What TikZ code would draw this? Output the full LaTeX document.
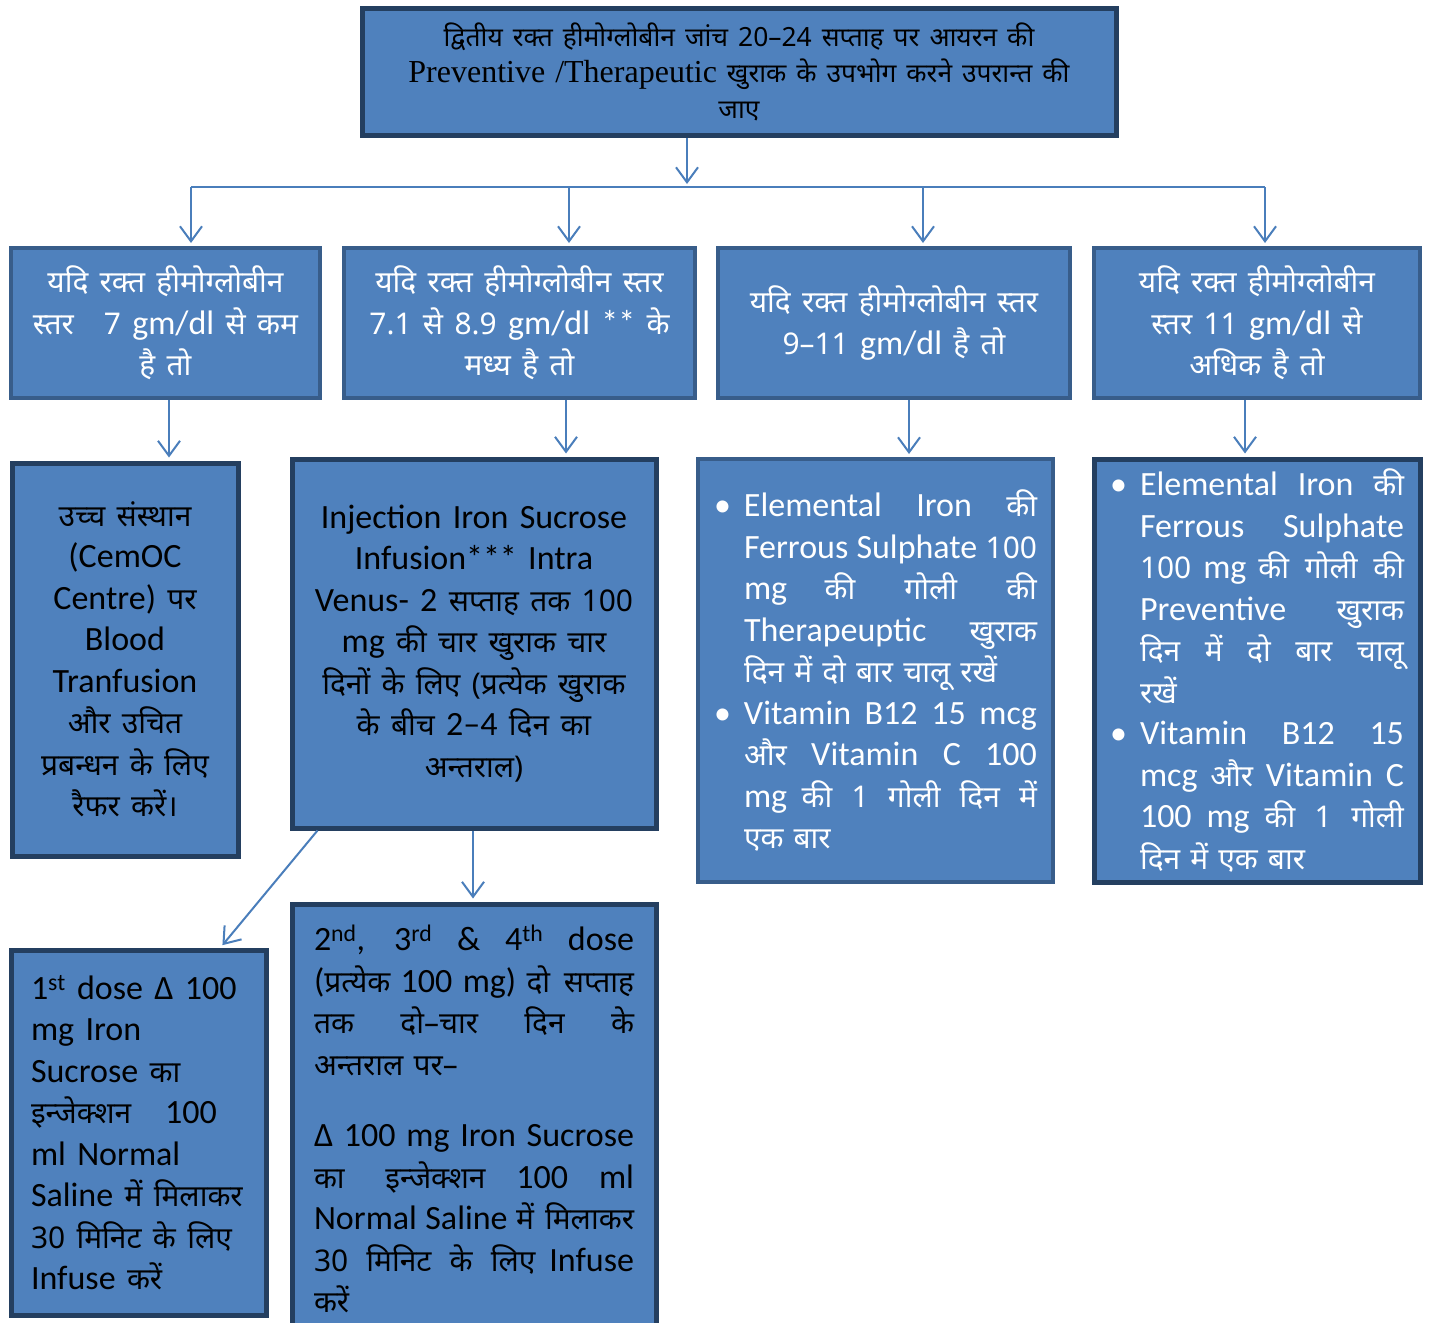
\documentclass[tikz,border=0pt]{standalone}
\usepackage{fontspec}
\setmainfont{Carlito}
\newfontfamily\hn[Script=Devanagari,Scale=0.88,WordSpace=1.3]{Noto Sans}
\newfontfamily\tms{Liberation Serif}
\usetikzlibrary{arrows.meta}
\definecolor{boxblue}{HTML}{4F81BD}
\definecolor{edgedark}{HTML}{243F60}
\definecolor{edgemid}{HTML}{385D8A}
\definecolor{linkblue}{HTML}{4A7EBB}
\newcommand\hi[1]{{\hn #1}}
\newcommand\dotitem{\hangindent=30pt\hangafter=1\noindent\hbox to 30pt{\textbullet\hfil}}

\begin{document}
\begin{tikzpicture}[x=1pt, y=-1pt,
    panel/.style={draw=edgedark, line width=5pt, fill=boxblue, inner sep=0pt,
      font=\fontsize{34}{41.5}\selectfont},
    midpanel/.style={panel, draw=edgemid, line width=4pt},
    link/.style={draw=linkblue, line width=2pt, shorten >=3pt,
      -{Straight Barb[length=15pt,width=22pt]}},
    wire/.style={draw=linkblue, line width=2pt}]
  \useasboundingbox (0,0) rectangle (1431,1322);

  % second check
  \node[panel, minimum width=754pt, minimum height=126pt, text width=720pt,
    align=center, font=\fontsize{30}{36}\selectfont] (check) at (739,72)
    {\hi{द्वितीय रक्त हीमोग्लोबीन जांच 20–24 सप्ताह पर आयरन की}\\
     {\tms\fontsize{32}{36}\selectfont Preventive /Therapeutic} \hi{खुराक के उपभोग करने उपरान्त की}\\
     \hi{जाए}};

  % haemoglobin levels
  \node[midpanel, text=white, minimum width=309pt, minimum height=150pt,
    text width=280pt, align=center] (hbA) at (165.5,323)
    {\hi{यदि रक्त हीमोग्लोबीन}\\ \hi{स्तर\quad 7} gm/dl \hi{से कम}\\ \hi{है तो}};
  \node[midpanel, text=white, minimum width=351pt, minimum height=150pt,
    text width=330pt, align=center] (hbB) at (519.5,323)
    {\hi{यदि रक्त हीमोग्लोबीन स्तर}\\ \hi{7.1 से 8.9} gm/dl ** \hi{के}\\ \hi{मध्य है तो}};
  \node[midpanel, text=white, minimum width=352pt, minimum height=150pt,
    text width=330pt, align=center] (hbC) at (894,323)
    {\hi{यदि रक्त हीमोग्लोबीन स्तर}\\ \hi{9–11} gm/dl \hi{है तो}};
  \node[midpanel, text=white, minimum width=326pt, minimum height=150pt,
    text width=300pt, align=center] (hbD) at (1257,323)
    {\hi{यदि रक्त हीमोग्लोबीन}\\ \hi{स्तर 11} gm/dl \hi{से}\\ \hi{अधिक है तो}};

  % treatments
  \node[panel, minimum width=226pt, minimum height=393pt, text width=210pt,
    align=center] (refer) at (125,659.5)
    {\hi{उच्च संस्थान}\\ (CemOC\\ Centre) \hi{पर}\\ Blood\\ Tranfusion\\
     \hi{और उचित}\\ \hi{प्रबन्धन के लिए}\\ \hi{रैफर करें।}};
  \node[panel, minimum width=364pt, minimum height=369pt, text width=340pt,
    align=center] (sucrose) at (474,643.5)
    {Injection Iron Sucrose\\ Infusion*** Intra\\ Venus- 2 \hi{सप्ताह तक 100}\\
     mg \hi{की चार खुराक चार}\\ \hi{दिनों के लिए (प्रत्येक खुराक}\\
     \hi{के बीच} 2–4 \hi{दिन का}\\ \hi{अन्तराल)}};
  \node[midpanel, text=white, minimum width=355pt, minimum height=423pt,
    text width=323pt, align=justify] (therapy) at (875.5,670.5)
    {\dotitem Elemental Iron \hi{की}\linebreak Ferrous Sulphate \hi{100}\linebreak
     mg \hi{की गोली की}\linebreak Therapeuptic \hi{खुराक}\linebreak
     \hi{दिन में दो बार चालू रखें}\par
     \dotitem Vitamin B12 15 mcg\linebreak \hi{और} Vitamin C 100\linebreak
     mg \hi{की 1 गोली दिन में}\linebreak \hi{एक बार}\par};
  \node[panel, text=white, minimum width=326pt, minimum height=423pt,
    text width=294pt, align=justify] (prevent) at (1257,670.5)
    {\dotitem Elemental Iron \hi{की}\linebreak Ferrous Sulphate\linebreak
     \hi{100} mg \hi{की गोली की}\linebreak Preventive \hi{खुराक}\linebreak
     \hi{दिन में दो बार चालू}\linebreak \hi{रखें}\par
     \dotitem Vitamin B12 15\linebreak mcg \hi{और} Vitamin C\linebreak
     100 mg \hi{की 1 गोली}\linebreak \hi{दिन में एक बार}\par};

  % doses
  \node[panel, minimum width=255pt, minimum height=365pt, text width=215pt,
    align=left] (first) at (138.5,1132.5)
    {1\textsuperscript{st} dose Δ 100\\ mg Iron\\ Sucrose \hi{का}\\
     \hi{इन्जेक्शन}\quad 100\\ ml Normal\\ Saline \hi{में मिलाकर}\\
     \hi{30 मिनिट के लिए}\\ Infuse \hi{करें}};
  \node[panel, minimum width=364pt, minimum height=430pt, text width=320pt,
    align=justify] (later) at (474,1119)
    {2\textsuperscript{nd}, 3\textsuperscript{rd} \& 4\textsuperscript{th} dose\linebreak
     (\hi{प्रत्येक} 100 mg) \hi{दो सप्ताह}\linebreak \hi{तक दो–चार दिन के}\linebreak
     \hi{अन्तराल पर–}\par\vspace{30pt}
     Δ 100 mg Iron Sucrose\linebreak \hi{का इन्जेक्शन} 100 ml\linebreak
     Normal Saline \hi{में मिलाकर}\linebreak \hi{30 मिनिट के लिए} Infuse\linebreak
     \hi{करें}\par};

  % branch line
  \coordinate (hub) at (687,187);
  \coordinate (busA) at (191,187);
  \coordinate (busB) at (569,187);
  \coordinate (busC) at (923,187);
  \coordinate (busD) at (1265,187);
  \draw[link] (check.south -| hub) -- (hub);
  \draw[wire] (busA) -- (busD);
  \foreach \k/\n in {A/hbA, B/hbB, C/hbC, D/hbD}
    \draw[link] (bus\k) -- (bus\k |- \n.north);

  % level to treatment
  \coordinate (tapA) at (169,0);
  \coordinate (tapB) at (566,0);
  \coordinate (tapC) at (909,0);
  \coordinate (tapD) at (1245,0);
  \draw[link] (hbA.south -| tapA) -- (refer.north -| tapA);
  \draw[link] (hbB.south -| tapB) -- (sucrose.north -| tapB);
  \draw[link] (hbC.south -| tapC) -- (therapy.north -| tapC);
  \draw[link] (hbD.south -| tapD) -- (prevent.north -| tapD);

  % doses
  \draw[link] ([xshift=28pt]sucrose.south west) -- ([xshift=82pt]first.north);
  \draw[link] (sucrose.south -| 473,0) -- (later.north -| 473,0);
\end{tikzpicture}
\end{document}
